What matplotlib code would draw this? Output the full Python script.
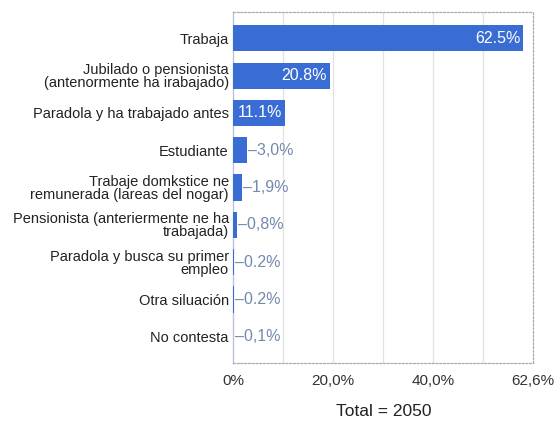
import matplotlib
matplotlib.use("Agg")
import matplotlib.pyplot as plt

categories = [
    "Trabaja",
    "Jubilado o pensionista\n(antenormente ha irabajado)",
    "Paradola y ha trabajado antes",
    "Estudiante",
    "Trabaje domkstice ne\nremunerada (lareas del nogar)",
    "Pensionista (anteriermente ne ha\ntrabajada)",
    "Paradola y busca su primer\nempleo",
    "Otra siluación",
    "No contesta",
]
values = [62.5, 20.8, 11.1, 3.0, 1.9, 0.8, 0.2, 0.2, 0.1]
value_labels = ["62.5%", "20.8%", "11.1%", "3,0%", "1,9%", "0,8%", "0.2%", "0.2%", "0,1%"]
tick_labels = ["0%", "20,0%", "40,0%", "62,6%"]
total = 2050

plt.rcParams['font.family'] = ['Liberation Sans', 'DejaVu Sans']

fig = plt.figure(figsize=(5.58, 4.26), dpi=100)
ax = fig.add_axes([0.4176, 0.148, 0.5376, 0.8235])

bar_color = "#3a6dd3"
xmax = 64.6
ypos = list(range(len(categories)))
ax.barh(ypos, values, height=0.7, color=bar_color, zorder=3)
ax.set_ylim(len(categories) - 0.3, -0.7)
ax.set_xlim(0, xmax)

# gridlines: 6 equal steps
grid = [xmax * k / 6 for k in range(7)]
for g in grid[1:-1]:
    ax.axvline(g, color="#e2e2e2", lw=0.9, zorder=1)
ax.set_xticks([grid[0], grid[2], grid[4], grid[6]])
ax.set_xticklabels(tick_labels, fontsize=11, color="#333333")
ax.tick_params(axis="x", length=0, pad=8)

ax.set_yticks(ypos)
ax.set_yticklabels(categories, fontsize=10.5, color="#222222", linespacing=0.9)
ax.tick_params(axis="y", length=0, pad=3)

for s in ["top", "right", "bottom"]:
    ax.spines[s].set_linestyle((0, (1.5, 1.5)))
    ax.spines[s].set_color("#aaaaaa")
    ax.spines[s].set_linewidth(0.9)
ax.spines["left"].set_color("#b8c6dc")
ax.spines["left"].set_linewidth(1.0)

for y, v, lab in zip(ypos, values, value_labels):
    if v > 10:
        ax.text(v - 0.6, y, lab, ha="right", va="center", color="white", fontsize=11.5, zorder=4)
    else:
        ax.text(v + 0.3, y, "\u2013" + lab, ha="left", va="center", color="#7389ad", fontsize=11.5, zorder=4)

fig.text(0.688, 0.033, "Total = %d" % total, ha="center", va="center", fontsize=12.5, color="#222222")

fig.savefig("out.png", dpi=100)
